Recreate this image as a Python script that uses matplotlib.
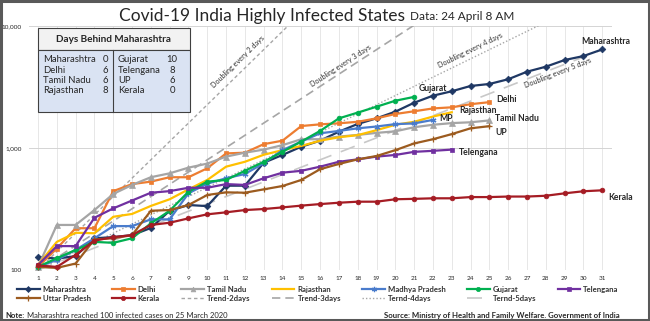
import math

import matplotlib
matplotlib.use("Agg")
import matplotlib.pyplot as plt
import matplotlib.patches as mpatches
from matplotlib.ticker import FixedLocator, FuncFormatter

plt.rcParams["font.family"] = ["Lato", "DejaVu Sans"]

# ── Data: confirmed cases, day 1 = first day with ~100 cases ────────────────
maharashtra = [128, 124, 130, 182, 186, 193, 221, 306, 341, 334, 491, 491, 757, 877,
               1025, 1148, 1361, 1574, 1750, 1985, 2350, 2684, 2918, 3224, 3348,
               3659, 4220, 4637, 5260, 5670, 6427]
delhi = [106, 150, 220, 220, 443, 506, 530, 576, 576, 682, 903, 915, 1075, 1148,
         1514, 1563, 1594, 1640, 1750, 1900, 2000, 2110, 2155, 2285, 2376]
tamil_nadu = [106, 234, 234, 310, 420, 498, 576, 620, 690, 745, 850, 915, 970, 1055,
              1180, 1180, 1240, 1280, 1330, 1370, 1480, 1550, 1600, 1625, 1683]
rajasthan = [110, 170, 202, 200, 273, 288, 335, 380, 458, 547, 703, 771, 880, 960,
             1040, 1148, 1225, 1275, 1400, 1550, 1640, 1810, 1964]
madhya_pradesh = [106, 121, 146, 182, 229, 229, 260, 260, 425, 510, 565, 612, 750,
                  960, 1130, 1320, 1380, 1450, 1500, 1570, 1590, 1699]
gujarat = [106, 125, 146, 170, 167, 182, 241, 306, 438, 530, 547, 650, 771, 930,
           1130, 1380, 1750, 1950, 2180, 2440, 2624]
telengana = [110, 157, 157, 268, 320, 371, 430, 443, 472, 472, 506, 498, 565, 628,
             650, 703, 771, 807, 850, 877, 930, 948, 970]
uttar_pradesh = [106, 104, 113, 178, 182, 193, 306, 310, 341, 412, 433, 430, 458, 488,
                 547, 670, 740, 807, 860, 960, 1090, 1180, 1300, 1450, 1510]
kerala = [109, 106, 133, 174, 186, 193, 234, 244, 265, 286, 297, 310, 316, 326, 337,
          347, 356, 363, 363, 380, 383, 387, 387, 396, 396, 400, 400, 406, 425, 442, 450]

days = list(range(1, 32))
doubling_periods = [2, 3, 4, 5]

days_behind_left = [("Maharashtra", 0), ("Delhi", 6), ("Tamil Nadu", 6), ("Rajasthan", 8)]
days_behind_right = [("Gujarat", 10), ("Telengana", 8), ("UP", 6), ("Kerala", 0)]

# ── Styles ───────────────────────────────────────────────────────────────────
_TEXT = "#262626"
_GRID = "#e3e3e3"
_TREND = "#a6a6a6"

series = [
    # name, values, colour, marker, end label, label offset (px), alignment
    ("Maharashtra", maharashtra, "#1f3864", "D", "Maharashtra", (4, 8), "center"),
    ("Delhi", delhi, "#ed7d31", "s", "Delhi", (7, 3), "left"),
    ("Tamil Nadu", tamil_nadu, "#a5a5a5", "^", "Tamil Nadu", (6, 2), "left"),
    ("Rajasthan", rajasthan, "#ffc000", None, "Rajasthan", (8, 2), "left"),
    ("Madhya Pradesh", madhya_pradesh, "#4a7ccc", (6, 2, 0), "MP", (6, 1), "left"),
    ("Gujarat", gujarat, "#00b050", "o", "Gujarat", (4, 8), "left"),
    ("Telengana", telengana, "#7030a0", "s", "Telengana", (7, -3), "left"),
    ("Uttar Pradesh", uttar_pradesh, "#9c5b1f", "+", "UP", (6, -6), "left"),
    ("Kerala", kerala, "#a51c24", "o", "Kerala", (6, -7), "left"),
]

trend_styles = {
    2: dict(linestyle=(0, (2.5, 2)), linewidth=1.0, color=_TREND),
    3: dict(linestyle=(0, (5, 3)), linewidth=1.2, color=_TREND),
    4: dict(linestyle=(0, (1, 1.5)), linewidth=1.0, color=_TREND),
    5: dict(linestyle=(0, (9, 6)), linewidth=1.2, color="#c8c8c8"),
}
trend_names = {2: "Trend-2days", 3: "Trend-3days", 4: "Ternd-4days", 5: "Ternd-5days"}
# label anchor (day, cases) for each "Doubling every n days" note
trend_label_pos = {2: (11.65, 5070), 3: (17.1, 4700), 4: (24.0, 6350), 5: (28.65, 4120)}

# ── Figure ───────────────────────────────────────────────────────────────────
W, H = 650, 321
fig = plt.figure(figsize=(W / 100, H / 100), dpi=100)
fig.patch.set_facecolor("white")

ax = fig.add_axes([28.6 / W, 1 - 270 / H, (611.6 - 28.6) / W, (270 - 26) / H])
ax.set_yscale("log")
ax.set_xlim(0.5, 31.5)
ax.set_ylim(100, 10000)
for s in ax.spines.values():
    s.set_visible(False)
ax.xaxis.set_major_locator(FixedLocator(days))
ax.yaxis.set_major_locator(FixedLocator([100, 1000, 10000]))
ax.yaxis.set_minor_locator(FixedLocator([]))
ax.yaxis.set_major_formatter(FuncFormatter(lambda v, _: f"{v:,.0f}"))
ax.tick_params(axis="both", length=0, labelsize=4.6, colors=_TEXT, pad=4)
ax.tick_params(axis="y", pad=5)
ax.grid(True, axis="x", color=_GRID, linewidth=0.6)
ax.grid(True, axis="y", color="#d4d4d4", linewidth=0.7)
ax.set_axisbelow(True)

handles = {}

# doubling trend lines from 100 cases on day 1
for n in doubling_periods:
    trend = [100 * 2 ** ((d - 1) / n) for d in days]
    (h,) = ax.plot(days, trend, zorder=1, **trend_styles[n])
    handles[trend_names[n]] = h

for name, vals, col, mk, lbl, off, ha in series:
    x = days[:len(vals)]
    kw = dict(color=col, linewidth=1.6, zorder=3)
    if mk is not None:
        ms = 3.4 if mk in ("D", "s", "o") else 4.2
        if mk == "^":
            ms = 3.8
        kw.update(marker=mk, markersize=ms, markeredgewidth=0.9 if mk in ("+", (6, 2, 0)) else 0.5)
    (h,) = ax.plot(x, vals, **kw)
    handles[name] = h
    ax.annotate(lbl, xy=(x[-1], vals[-1]), xytext=off, textcoords="offset pixels",
                ha=ha, va="center", fontsize=6.2, fontweight="bold", color=_TEXT, zorder=5)

# rotated notes along the trend lines
fig.canvas.draw()
for n in doubling_periods:
    p0 = ax.transData.transform((1, 100))
    p1 = ax.transData.transform((31, 100 * 2 ** (30 / n)))
    ang = math.degrees(math.atan2(p1[1] - p0[1], p1[0] - p0[0]))
    d, v = trend_label_pos[n]
    ax.text(d, v, f"Doubling every {n} days", rotation=ang, rotation_mode="anchor",
            ha="center", va="center", fontsize=5.2, color="#333333", zorder=4)

# ── Days-behind table ────────────────────────────────────────────────────────
def fx(px):
    return px / W


def fy(py):
    return 1 - py / H


box_l, box_r, box_t, box_b, head_b, div_x = 38, 190, 28, 112, 50, 113
fig.patches.append(mpatches.Rectangle((fx(box_l), fy(head_b)), fx(box_r - box_l),
                                      (head_b - box_t) / H, transform=fig.transFigure,
                                      facecolor="#f2f2f2", edgecolor="#404040",
                                      linewidth=0.8, zorder=5))
fig.patches.append(mpatches.Rectangle((fx(box_l), fy(box_b)), fx(box_r - box_l),
                                      (box_b - head_b) / H, transform=fig.transFigure,
                                      facecolor="#dae3f3", edgecolor="#404040",
                                      linewidth=0.8, zorder=5))
fig.lines.append(plt.Line2D([fx(div_x), fx(div_x)], [fy(head_b), fy(box_b)],
                            transform=fig.transFigure, color="#404040", linewidth=0.8,
                            zorder=6))
fig.text(fx((box_l + box_r) / 2), fy(39.5), "Days Behind Maharashtra", ha="center",
         va="center", fontsize=7.2, fontweight="bold", color=_TEXT, zorder=7)
for i, ((ln, lv), (rn, rv)) in enumerate(zip(days_behind_left, days_behind_right)):
    y = fy(60 + i * 10.2)
    fig.text(fx(43), y, ln, ha="left", va="center", fontsize=6.8, color=_TEXT, zorder=7)
    fig.text(fx(105.5), y, str(lv), ha="center", va="center", fontsize=6.8, color=_TEXT, zorder=7)
    fig.text(fx(118), y, rn, ha="left", va="center", fontsize=6.8, color=_TEXT, zorder=7)
    fig.text(fx(172), y, str(rv), ha="center", va="center", fontsize=6.8, color=_TEXT, zorder=7)

# ── Titles ───────────────────────────────────────────────────────────────────
fig.text(fx(405), fy(16), "Covid-19 India Highly Infected States", ha="right",
         va="center", fontsize=12.5, color=_TEXT)
fig.text(fx(410), fy(17), "Data: 24 April 8 AM", ha="left", va="center",
         fontsize=8.5, color=_TEXT)

# ── Legend (row-major order rearranged for column-major fill) ───────────────
order = ["Maharashtra", "Uttar Pradesh", "Delhi", "Kerala", "Tamil Nadu", "Trend-2days",
         "Rajasthan", "Trend-3days", "Madhya Pradesh", "Ternd-4days", "Gujarat",
         "Ternd-5days", "Telengana"]
leg = fig.legend([handles[k] for k in order], order, ncol=7, loc="center left",
                 bbox_to_anchor=(fx(17), fy(294)), frameon=False, fontsize=5.6,
                 handlelength=2.9, handletextpad=0.4, columnspacing=2.75,
                 labelspacing=0.3, markerscale=0.9, borderpad=0, borderaxespad=0)
for t in leg.get_texts():
    t.set_fontweight("bold")
    t.set_color("#333333")

# ── Footer ───────────────────────────────────────────────────────────────────
note_head = fig.text(fx(5), fy(315.5), "Note:", ha="left", va="center", fontsize=5.5,
                     fontweight="bold", color=_TEXT)
fig.canvas.draw()
bb = note_head.get_window_extent()
fig.text(bb.x1 / W + fx(2.5), fy(315.5),
         "Maharashtra reached 100 infected cases on 25 March 2020",
         ha="left", va="center", fontsize=5.5, color=_TEXT)
fig.text(fx(620), fy(315.5), "Source: Ministry of Health and Family Welfare. Government of India",
         ha="right", va="center", fontsize=5.6, fontweight="bold", color=_TEXT)

# outer frame
fig.patches.append(mpatches.Rectangle((0.001, 0.002), 0.997, 0.996, transform=fig.transFigure,
                                      fill=False, edgecolor="#595959", linewidth=2.2, zorder=10))

fig.savefig("out.png", dpi=100, facecolor="white")
